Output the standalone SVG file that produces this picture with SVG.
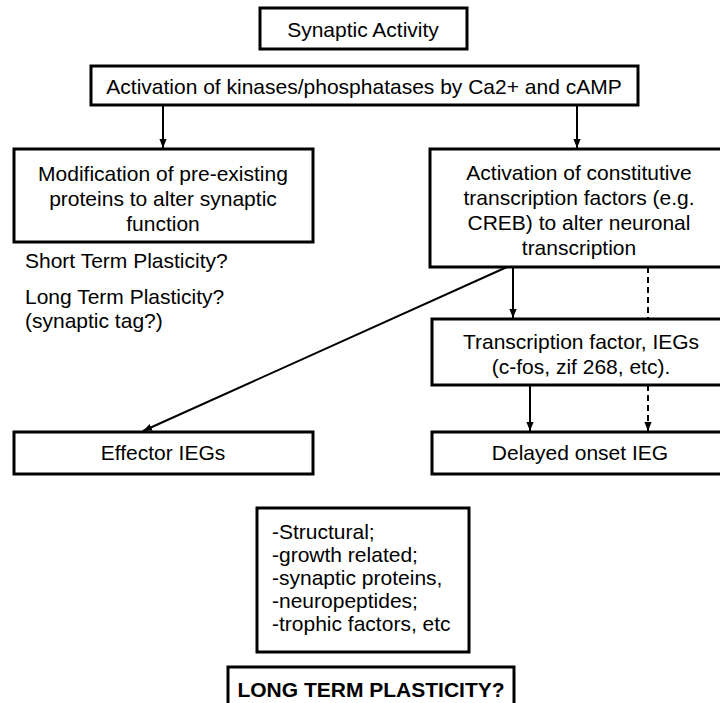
<svg xmlns="http://www.w3.org/2000/svg" width="720" height="703" viewBox="0 0 720 703">
<defs>
<style>
.box{fill:#fff;stroke:#000;stroke-width:3}
.t{font-family:"Liberation Sans",Arial,sans-serif;font-size:21px;fill:#000}
.c{text-anchor:middle}
.b{font-weight:bold}
.ln{stroke:#000;stroke-width:2;fill:none}
.ds{stroke-dasharray:6 4}
</style>
<marker id="ah" viewBox="0 0 10 10" refX="10" refY="5" markerWidth="9" markerHeight="9" markerUnits="userSpaceOnUse" orient="auto">
<path d="M0,1 L10,5 L0,9 Z" fill="#000"/>
</marker>
</defs>
<rect width="720" height="703" fill="#fff"/>
<g id="connectors">
<line class="ln" x1="163" y1="105" x2="163" y2="148" marker-end="url(#ah)"/>
<line class="ln" x1="577" y1="105" x2="577" y2="148" marker-end="url(#ah)"/>
<line class="ln" x1="513" y1="267" x2="513" y2="318" marker-end="url(#ah)"/>
<line class="ln ds" x1="648" y1="267" x2="648" y2="318"/>
<line class="ln" x1="507" y1="267" x2="143" y2="431" marker-end="url(#ah)"/>
<line class="ln" x1="530" y1="385" x2="530" y2="431" marker-end="url(#ah)"/>
<line class="ln ds" x1="648" y1="385" x2="648" y2="431" marker-end="url(#ah)"/>
</g>
<g id="synaptic-activity">
<rect class="box" x="260" y="8" width="207" height="41"/>
<text class="t c" x="363" y="37">Synaptic Activity</text>
</g>
<g id="kinases">
<rect class="box" x="91" y="66" width="547" height="39"/>
<text class="t c" x="364" y="94">Activation of kinases/phosphatases by Ca2+ and cAMP</text>
</g>
<g id="modification">
<rect class="box" x="14" y="149" width="299" height="93"/>
<text class="t c" x="163" y="181">Modification of pre-existing</text>
<text class="t c" x="163" y="206">proteins to alter synaptic</text>
<text class="t c" x="163" y="231">function</text>
</g>
<g id="plasticity-notes">
<text class="t" x="25" y="268">Short Term Plasticity?</text>
<text class="t" x="25" y="304">Long Term Plasticity?</text>
<text class="t" x="25" y="328">(synaptic tag?)</text>
</g>
<g id="constitutive">
<rect class="box" x="430" y="149" width="298" height="118"/>
<text class="t c" x="579" y="180">Activation of constitutive</text>
<text class="t c" x="579" y="205">transcription factors (e.g.</text>
<text class="t c" x="579" y="230">CREB) to alter neuronal</text>
<text class="t c" x="579" y="255">transcription</text>
</g>
<g id="transcription-ieg">
<rect class="box" x="432" y="319" width="296" height="66"/>
<text class="t c" x="581" y="349">Transcription factor, IEGs</text>
<text class="t c" x="581" y="374">(c-fos, zif 268, etc).</text>
</g>
<g id="effector">
<rect class="box" x="14" y="432" width="299" height="42"/>
<text class="t c" x="163" y="460">Effector IEGs</text>
</g>
<g id="delayed">
<rect class="box" x="432" y="432" width="296" height="42"/>
<text class="t c" x="580" y="460">Delayed onset IEG</text>
</g>
<g id="products">
<rect class="box" x="257" y="508" width="212" height="144"/>
<text class="t" x="272" y="539">-Structural;</text>
<text class="t" x="272" y="562">-growth related;</text>
<text class="t" x="272" y="585">-synaptic proteins,</text>
<text class="t" x="272" y="608">-neuropeptides;</text>
<text class="t" x="272" y="631">-trophic factors, etc</text>
</g>
<g id="long-term">
<rect class="box" x="228" y="667" width="286" height="40"/>
<text class="t c b" x="371" y="697">LONG TERM PLASTICITY?</text>
</g>
</svg>
